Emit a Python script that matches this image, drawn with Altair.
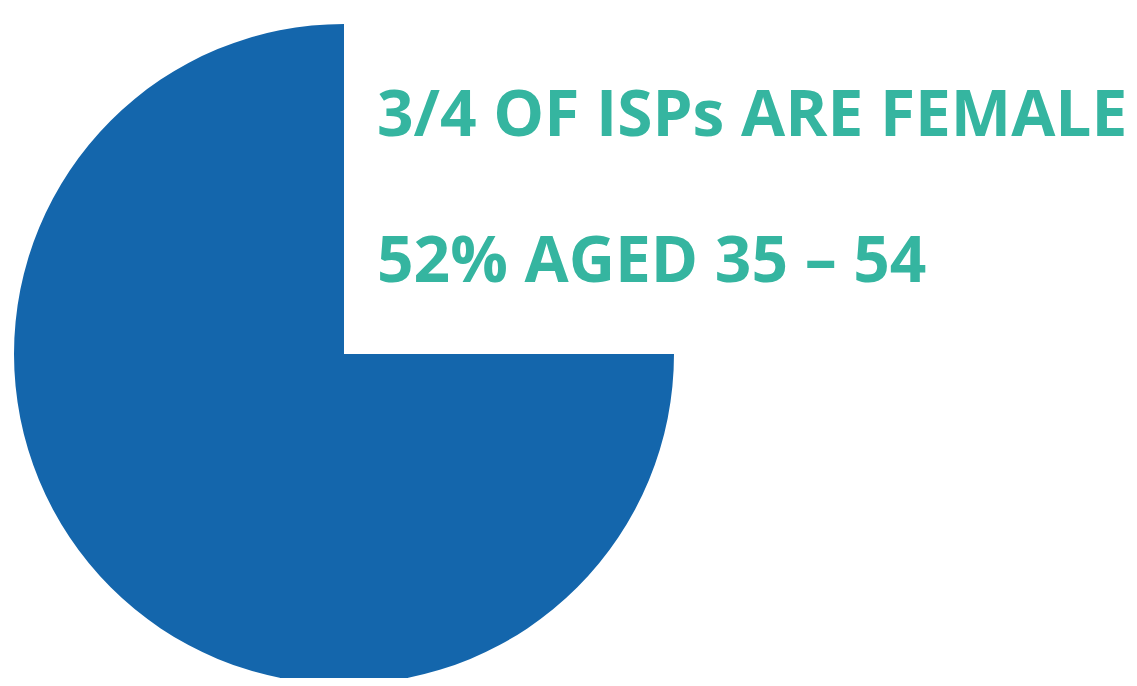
import altair as alt
import pandas as pd

categories = ["Other", "Female"]
shares = [25, 75]
colors = ["#ffffff", "#1466ac"]
headlines = ["3/4 OF ISPs ARE FEMALE", "52% AGED 35 \u2013 54"]
line_no = [0, 1]

pie_df = pd.DataFrame({"category": categories, "share": shares})
text_df = pd.DataFrame({"label": headlines, "line": line_no})

pie = alt.Chart(pie_df).mark_arc(strokeWidth=0).encode(
    theta=alt.Theta("share:Q", stack=True),
    order=alt.Order("category:N", sort="descending"),
    color=alt.Color("category:N", scale=alt.Scale(domain=categories, range=colors), legend=None),
    x=alt.value(336),
    y=alt.value(346),
    radius=alt.value(330),
)

text = alt.Chart(text_df).mark_text(
    align="left", baseline="alphabetic", font="Open Sans", fontWeight="bold",
    fontSize=64, color="#35b5a0"
).encode(
    x=alt.value(369),
    y=alt.Y("line:Q", scale=alt.Scale(domain=[0, 1], range=[128, 274]), axis=None),
    text="label:N",
)

chart = alt.layer(pie, text).properties(
    width=1121, height=670,
    autosize=alt.AutoSizeParams(type="none"),
    padding=0,
).configure_view(strokeWidth=0, stroke="transparent")

chart.save("out.html", embed_options={"renderer": "svg", "actions": False})
